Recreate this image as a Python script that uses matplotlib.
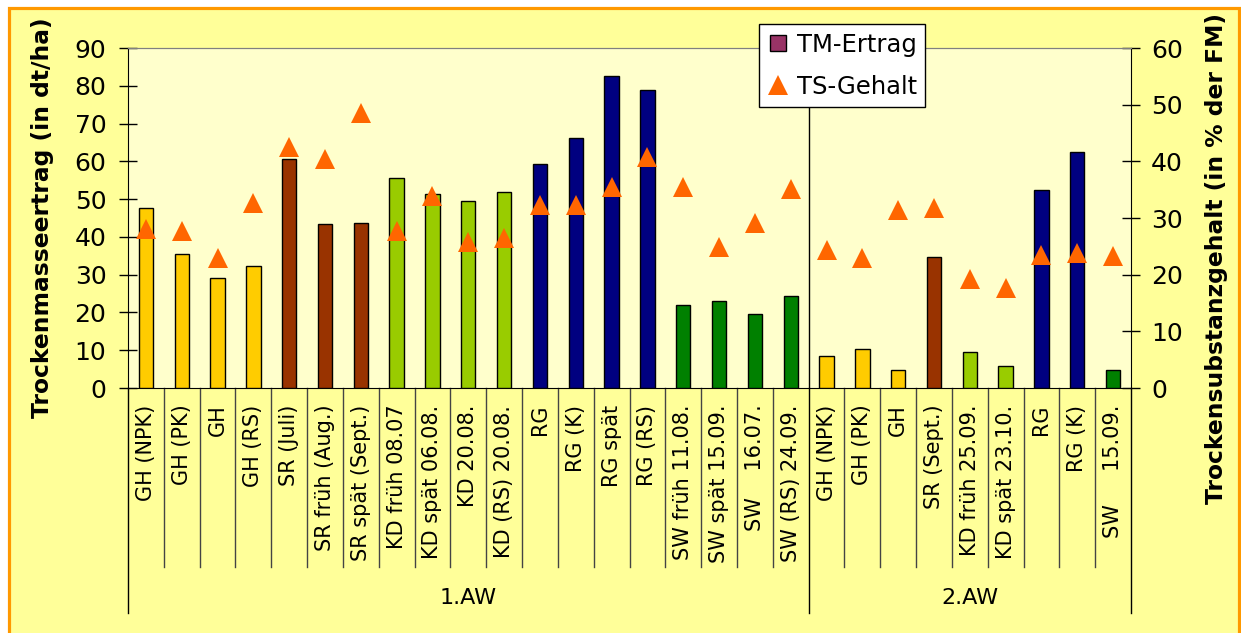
import matplotlib
matplotlib.use("Agg")
import matplotlib.pyplot as plt
from matplotlib.lines import Line2D
from matplotlib.patches import Rectangle

# Categories of the two cutting dates (1.AW / 2.AW)
labels_aw1 = ["GH (NPK)", "GH (PK)", "GH", "GH (RS)", "SR (Juli)", "SR früh (Aug.)",
              "SR spät (Sept.)", "KD früh 08.07", "KD spät 06.08.", "KD 20.08.",
              "KD (RS) 20.08.", "RG", "RG (K)", "RG spät", "RG (RS)",
              "SW früh 11.08.", "SW spät 15.09.", "SW    16.07.", "SW (RS) 24.09."]
labels_aw2 = ["GH (NPK)", "GH (PK)", "GH", "SR (Sept.)", "KD früh 25.09.",
              "KD spät 23.10.", "RG", "RG (K)", "SW     15.09."]
groups = ["1.AW", "2.AW"]

# Dry matter yield (dt/ha) and dry substance content (% of fresh matter)
tm_ertrag = [47.6, 35.5, 29.0, 32.2, 60.6, 43.4, 43.8, 55.5, 51.4, 49.5, 51.8,
             59.3, 66.3, 82.6, 78.9, 22.0, 22.9, 19.7, 24.4,
             8.5, 10.4, 4.8, 34.7, 9.4, 5.7, 52.3, 62.5, 4.8]
ts_gehalt = [28.0, 27.7, 22.9, 32.6, 42.6, 40.4, 48.5, 27.7, 33.9, 25.8, 26.4,
             32.3, 32.3, 35.4, 40.8, 35.5, 24.9, 29.2, 35.1,
             24.3, 23.0, 31.4, 31.7, 19.2, 17.7, 23.4, 23.8, 23.3]

crop_colors = {"GH": "#FFCC00", "SR": "#993300", "KD": "#99CC00",
               "RG": "#000080", "SW": "#008000"}

labels = labels_aw1 + labels_aw2
n = len(labels)
x = list(range(n))
colors = [crop_colors[lab.split()[0]] for lab in labels]

W, H = 1241, 633
fig = plt.figure(figsize=(W / 100, H / 100), dpi=100, facecolor="white")

# Outer chart area with orange frame
fig.patches.append(Rectangle((9 / W, -0.02), (1239 - 9) / W, 1.02 - 8 / H,
                             transform=fig.transFigure, facecolor="#FFFF99",
                             edgecolor="#FF9900", linewidth=2.3, zorder=-10))

left, right, top, bottom = 128, 1131, 48, 388
ax = fig.add_axes([left / W, 1 - bottom / H, (right - left) / W, (bottom - top) / H])
ax.set_facecolor("#FFFFCC")

ax.bar(x, tm_ertrag, width=0.4, color=colors, edgecolor="black", linewidth=1.0, zorder=3)
ax.set_xlim(-0.5, n - 0.5)
ax.set_ylim(0, 90)
ax.set_yticks(range(0, 91, 10))
ax.tick_params(axis="y", direction="inout", length=13, width=1, pad=9,
               labelsize=18, colors="black")
ax.set_xticks(x)
ax.set_xticklabels(labels, rotation=90, ha="center", va="top",
                   fontsize=15, family="DejaVu Sans")
ax.tick_params(axis="x", length=0, pad=12)

for side in ("left", "bottom"):
    ax.spines[side].set_color("black")
ax.spines["top"].set_color("#808080")
ax.spines["right"].set_visible(False)

# Group boundary line inside the plot
split = len(labels_aw1) - 0.5
ax.axvline(split, color="black", linewidth=1.0, zorder=2)

# Multi-level category axis lines below the plot
tr = ax.get_xaxis_transform()
for b in range(1, n):
    xb = b - 0.5
    if b == len(labels_aw1):
        continue
    ax.add_line(Line2D([xb, xb], [0, -0.527], transform=tr, color="#444444",
                       linewidth=1.0, clip_on=False))
for xb in (-0.5, split, n - 0.5):
    ax.add_line(Line2D([xb, xb], [0, -0.662], transform=tr, color="black",
                       linewidth=1.0, clip_on=False))
group_centers = [(-0.5 + split) / 2, (split + n - 0.5) / 2]
for g, c in zip(groups, group_centers):
    ax.text(c, -0.618, g, transform=tr, ha="center", va="center", fontsize=16)

# Secondary axis: dry substance content
ax2 = ax.twinx()
ax2.plot(x, ts_gehalt, linestyle="none", marker="^", markersize=13.7,
         color="#FF6600", markeredgewidth=0, zorder=4)
ax2.set_ylim(0, 60)
ax2.set_yticks(range(0, 61, 10))
ax2.tick_params(axis="y", direction="inout", length=13, width=1, pad=8,
                labelsize=18, colors="black")
ax2.spines["right"].set_color("black")
ax2.spines["top"].set_color("#808080")
ax2.spines["left"].set_visible(False)
ax2.spines["bottom"].set_visible(False)

fig.text(43 / W, 1 - 218 / H, "Trockenmasseertrag (in dt/ha)", rotation=90,
         ha="center", va="center", fontsize=16.8, fontweight="bold")
fig.text(1217 / W, 1 - 259 / H, "Trockensubstanzgehalt (in % der FM)", rotation=90,
         ha="center", va="center", fontsize=16.8, fontweight="bold")

handles = [Line2D([], [], linestyle="none", marker="s", markersize=11,
                  markerfacecolor="#993366", markeredgecolor="black", markeredgewidth=1),
           Line2D([], [], linestyle="none", marker="^", markersize=13.7,
                  color="#FF6600", markeredgewidth=0)]
leg = ax2.legend(handles, ["TM-Ertrag", "TS-Gehalt"], loc="upper left",
                 bbox_to_anchor=((759 - left) / (right - left), (bottom - 24) / (bottom - top)),
                 fontsize=17.5, frameon=True, fancybox=False, framealpha=1,
                 edgecolor="black", facecolor="white", borderpad=0.35,
                 handlelength=0.9, handletextpad=0.3, labelspacing=0.75,
                 borderaxespad=0)
leg.get_frame().set_linewidth(1.0)
leg.set_zorder(10)

fig.savefig("out.png", dpi=100, facecolor="white")
